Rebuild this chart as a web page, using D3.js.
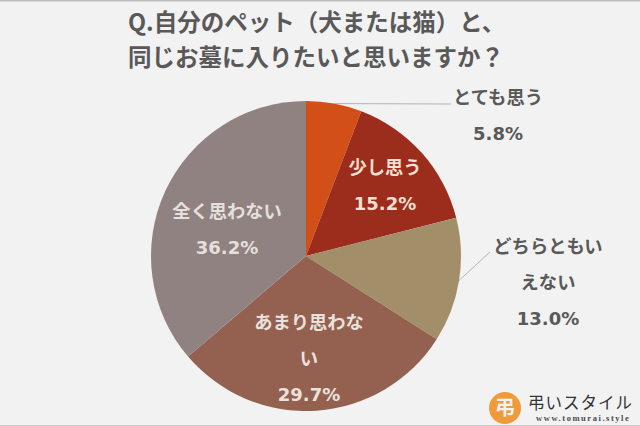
<!DOCTYPE html>
<html>
<head>
<meta charset="utf-8">
<script src="https://cdn.jsdelivr.net/npm/d3@7"></script>
<style>
html, body { margin: 0; padding: 0; background: #f2f2f2; overflow: hidden; }
text { font-family: "Noto Sans CJK JP", sans-serif; }
</style>
</head>
<body>
<div id="chart"></div>
<script>
const categories = ['とても思う', '少し思う', 'どちらともいえない', 'あまり思わない', '全く思わない'];
const values = [5.8, 15.2, 13.0, 29.7, 36.2];
const colors = ['#d24f17', '#9c2d1c', '#a28e69', '#946050', '#8f8280'];
const titleLines = ['Q.自分のペット（犬または猫）と、', '同じお墓に入りたいと思いますか？'];

// label lines as wrapped in the picture, position in px, dark = outside the pie
const labelLines = [
    ['とても思う'],
    ['少し思う'],
    ['どちらともい', 'えない'],
    ['あまり思わな', 'い'],
    ['全く思わない']
];
const labelPos = [[498, 104], [385, 174], [548, 253], [309, 329], [227, 218]];
const labelFill = ['#595959', '#f2dfd0', '#595959', '#eae2dc', '#e4e0dc'];
const leaderEnds = [[451, 104], null, [490, 252], null, null];

const svgWidth = 640;
const svgHeight = 426;
const cx = 306, cy = 256, radius = 155;
const lineStep = 36;

const svg = d3.select('#chart')
    .append('svg')
    .attr('width', svgWidth)
    .attr('height', svgHeight)
    .style('display', 'block');

svg.append('rect').attr('width', svgWidth).attr('height', svgHeight).attr('fill', '#f2f2f2');
svg.append('rect').attr('width', svgWidth).attr('height', 1.5).attr('fill', '#bdbdbd');
svg.append('rect').attr('y', svgHeight - 1).attr('width', svgWidth).attr('height', 1).attr('fill', '#c8c8c8');

svg.selectAll('.title')
    .data(titleLines)
    .enter().append('text')
    .attr('class', 'title')
    .attr('x', 128)
    .attr('y', (d, i) => 31 + i * 35)
    .attr('font-size', 23.5)
    .attr('font-weight', 700)
    .attr('fill', '#595959')
    .text(d => d);

const pie = d3.pie().sort(null);
const arc = d3.arc().innerRadius(0).outerRadius(radius);
const edge = d3.arc().innerRadius(radius).outerRadius(radius);
const arcs = pie(values);

const g = svg.append('g').attr('transform', `translate(${cx}, ${cy})`);

g.selectAll('path')
    .data(arcs)
    .enter().append('path')
    .attr('d', arc)
    .attr('fill', (d, i) => colors[i]);

// leader lines for the labels outside the pie
leaderEnds.forEach((end, i) => {
    if (!end) return;
    const start = edge.centroid(arcs[i]);
    svg.append('polyline')
        .attr('points', [[cx + start[0], cy + start[1]], end].map(p => p.join(',')).join(' '))
        .attr('fill', 'none')
        .attr('stroke', '#b4b4b4')
        .attr('stroke-width', 1);
});

categories.forEach((cat, i) => {
    const [x, y] = labelPos[i];
    const lines = labelLines[i].map(t => ({ t, pct: false }))
        .concat({ t: values[i].toFixed(1) + '%', pct: true });
    svg.selectAll(`.label-${i}`)
        .data(lines)
        .enter().append('text')
        .attr('class', `label-${i}`)
        .attr('x', x)
        .attr('y', (d, j) => y + j * lineStep)
        .attr('text-anchor', 'middle')
        .attr('font-size', d => d.pct ? 18 : 18.3)
        .attr('font-weight', 700)
        .style('font-family', d => d.pct ? '"DejaVu Sans"' : null)
        .attr('fill', labelFill[i])
        .text(d => d.t);
});

// logo, bottom right
svg.append('circle').attr('cx', 505).attr('cy', 408).attr('r', 16).attr('fill', '#f09a3a');
svg.append('text').attr('x', 505).attr('y', 415).attr('text-anchor', 'middle')
    .attr('font-size', 20).attr('font-weight', 700).attr('fill', '#f2f2f2').text('弔');
svg.append('text').attr('x', 528).attr('y', 409)
    .attr('font-size', 16.5).attr('font-weight', 400).attr('letter-spacing', 1).attr('fill', '#333').text('弔いスタイル');
svg.append('text').attr('x', 536).attr('y', 421)
    .style('font-family', '"Liberation Serif"')
    .attr('font-size', 8.5).attr('font-weight', 700).attr('letter-spacing', 1.55).attr('fill', '#4a4a4a').text('www.tomurai.style');
</script>
</body>
</html>
